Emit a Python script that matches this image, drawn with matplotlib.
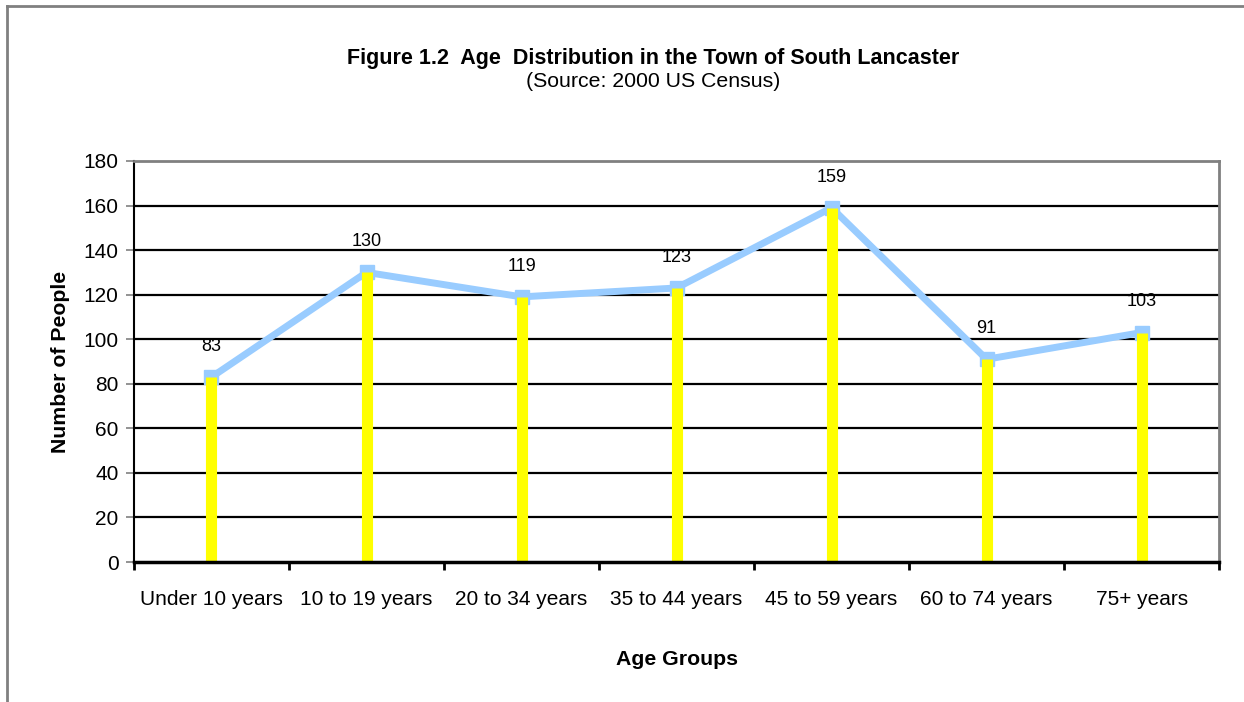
import matplotlib
matplotlib.use("Agg")
import matplotlib.pyplot as plt
import numpy as np
from matplotlib.lines import Line2D

plt.rcParams['font.family'] = ['Liberation Sans', 'DejaVu Sans']

age_groups = ["Under 10 years", "10 to 19 years", "20 to 34 years", "35 to 44 years",
              "45 to 59 years", "60 to 74 years", "75+ years"]
people = [83, 130, 119, 123, 159, 91, 103]
y_ticks = [0, 20, 40, 60, 80, 100, 120, 140, 160, 180]

fig = plt.figure(figsize=(12.44, 7.02), dpi=100)
ax = fig.add_axes([0.1077, 0.1994, 0.8723, 0.5713])

x = np.arange(len(age_groups))

# gridlines (black) behind everything
for v in y_ticks[1:-1]:
    ax.axhline(v, color='black', lw=1.6, zorder=1)

ax.plot(x, people, color='#99CCFF', lw=5, marker='s', markersize=10,
        markerfacecolor='#99CCFF', markeredgecolor='#99CCFF', zorder=3)
ax.vlines(x, 0, people, color='#FFFF00', lw=8, zorder=4)

for xi, v in zip(x, people):
    ax.annotate(str(v), (xi, v), xytext=(0, 22), textcoords='offset points',
                ha='center', va='center', fontsize=13, zorder=5)

ax.set_xlim(-0.5, len(age_groups) - 0.5)
ax.set_ylim(0, 180)
ax.set_yticks(y_ticks)
ax.set_xticks(x)
ax.set_xticklabels(age_groups, fontsize=15)
ax.set_xticks(np.arange(-0.5, len(age_groups)), minor=True)
ax.tick_params(axis='x', which='major', length=0, pad=20)
ax.tick_params(axis='x', which='minor', length=6, width=2, color='black', direction='out')
ax.tick_params(axis='y', length=6, width=1.2, color='#808080', labelsize=15, pad=5)

for s in ['top', 'right']:
    ax.spines[s].set_color('#808080')
    ax.spines[s].set_linewidth(2)
ax.spines['left'].set_color('black')
ax.spines['left'].set_linewidth(1.5)
ax.spines['bottom'].set_color('black')
ax.spines['bottom'].set_linewidth(2.5)
ax.spines['bottom'].set_zorder(6)

ax.set_ylabel("Number of People", fontsize=15.3, fontweight='bold', labelpad=10)
ax.set_xlabel("Age Groups", fontsize=15.3, fontweight='bold', labelpad=30)

fig.text(0.525, 0.917, "Figure 1.2  Age  Distribution in the Town of South Lancaster",
         ha='center', va='center', fontsize=15.5, fontweight='bold')
fig.text(0.525, 0.884, "(Source: 2000 US Census)", ha='center', va='center', fontsize=15.3)

# outer chart frame (only top and left edges show)
fig.add_artist(Line2D([0.0055, 1.0], [0.9915, 0.9915], color='#808080', lw=2))
fig.add_artist(Line2D([0.0055, 0.0055], [0.0, 0.9915], color='#808080', lw=2))

fig.savefig("out.png", dpi=100)
